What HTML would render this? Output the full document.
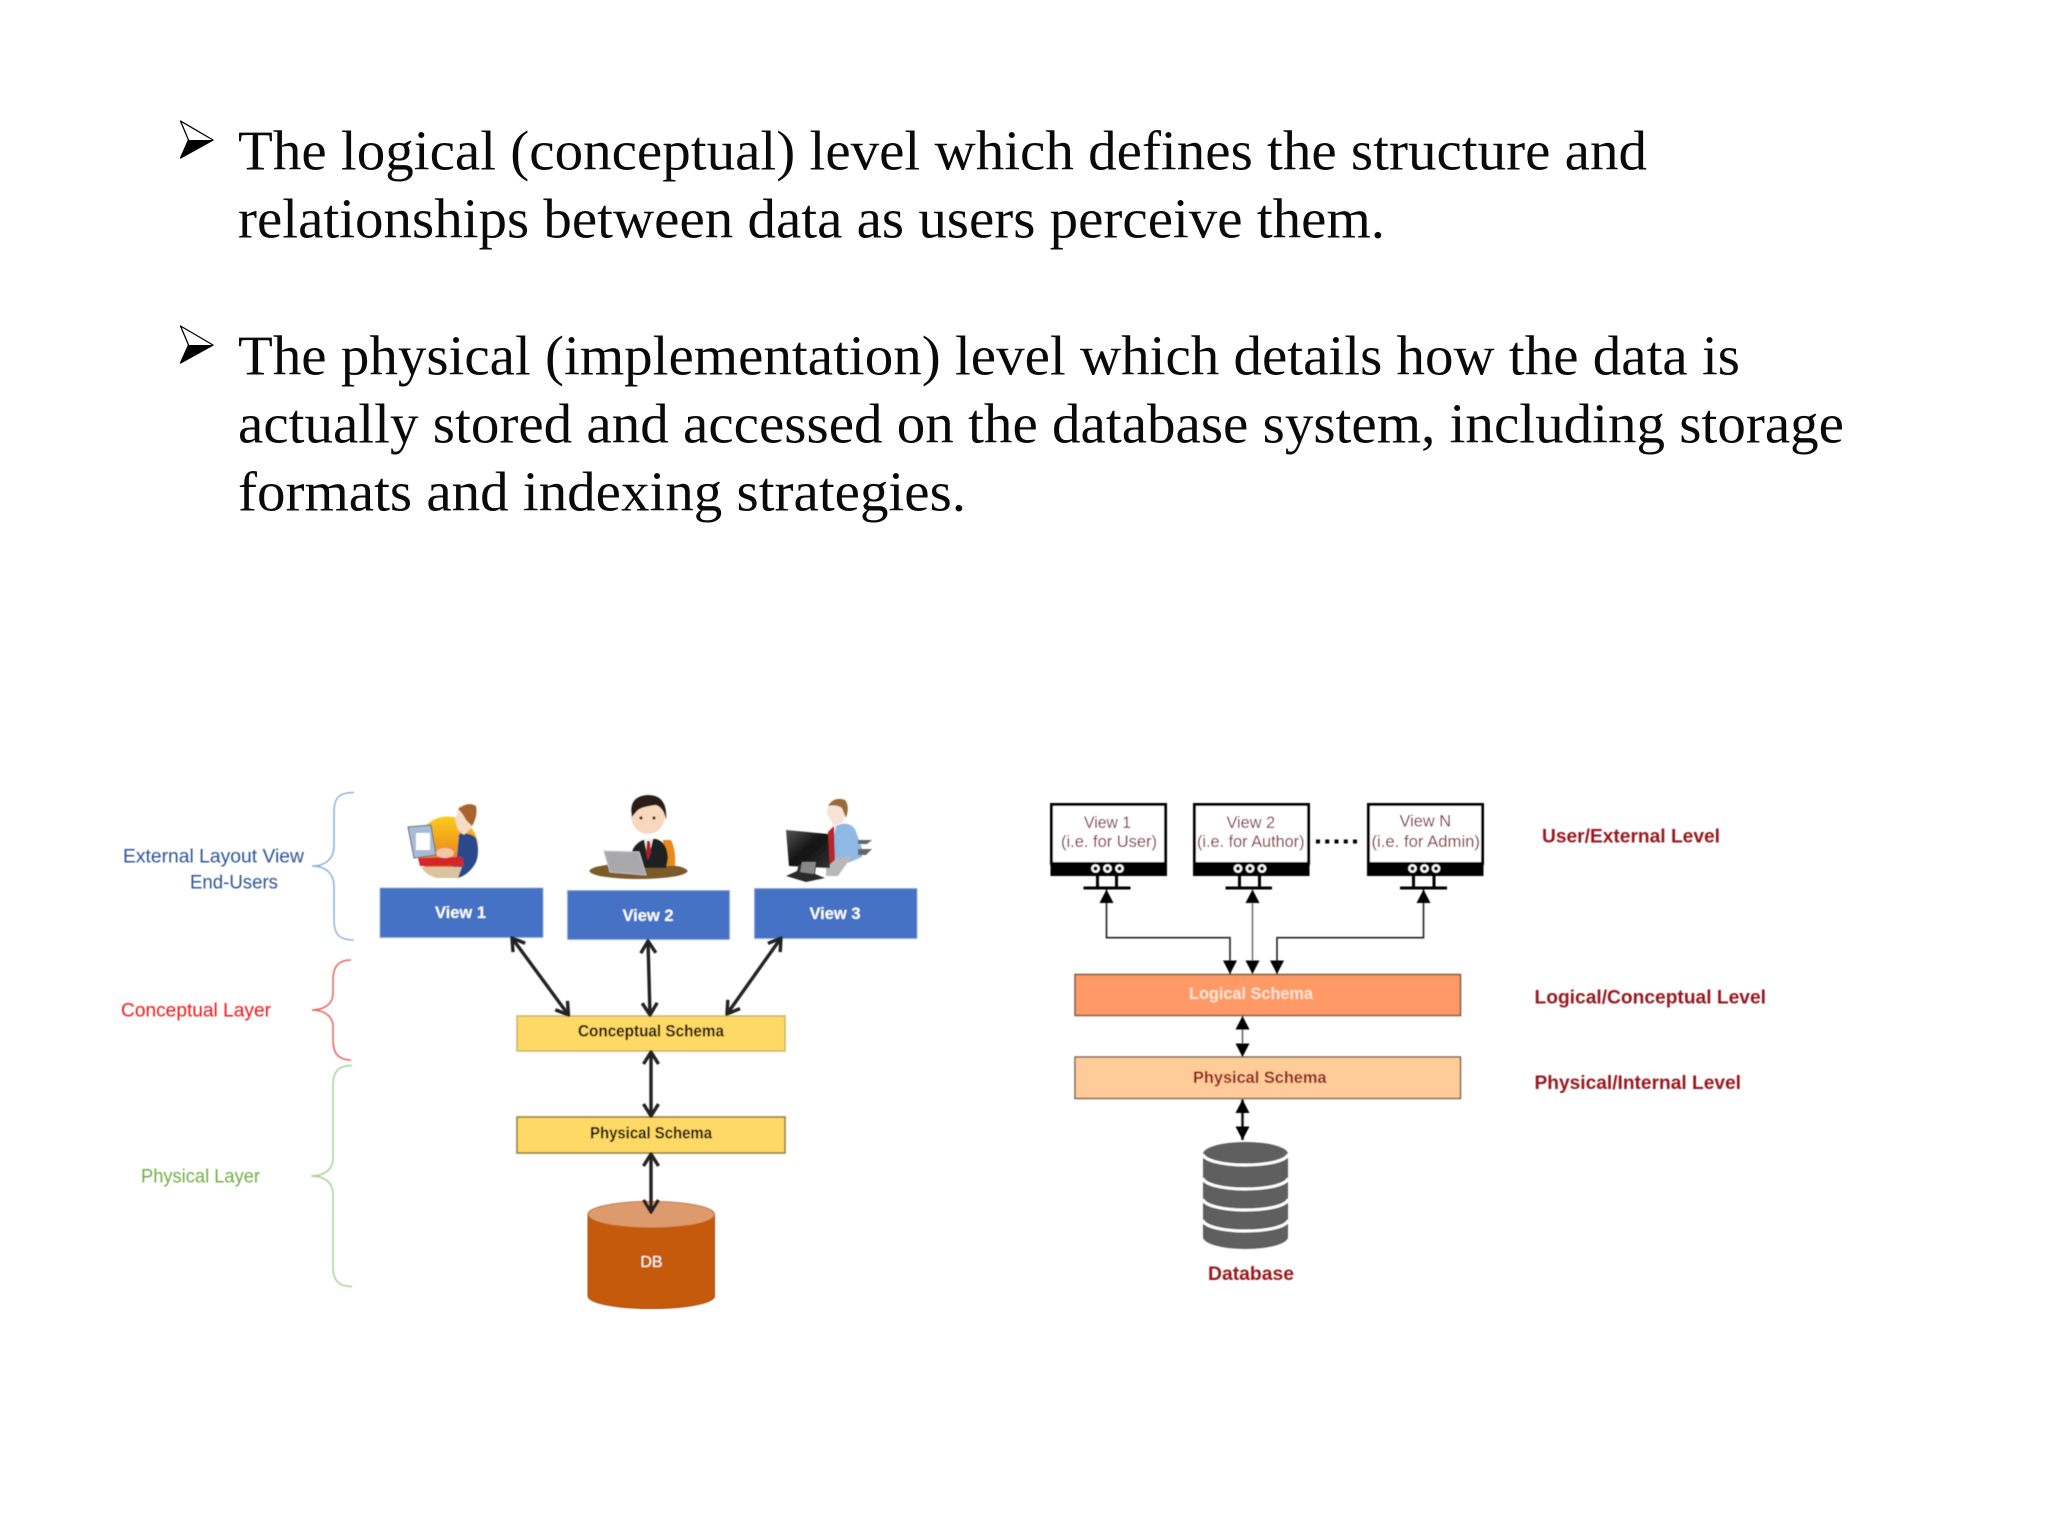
<!DOCTYPE html>
<html><head><meta charset="utf-8"><title>Logical and physical levels</title>
<style>
html,body{margin:0;padding:0;background:#fff;width:2048px;height:1536px;overflow:hidden}
svg{display:block}
.t{font-family:"Liberation Serif",serif;font-size:56.5px;fill:#0a0a0a}
.s{font-family:"Liberation Sans",sans-serif;dominant-baseline:central}
.c{font-family:"Liberation Sans",sans-serif;font-size:19px;dominant-baseline:central}
.b{font-weight:bold}
.lv{font-size:19.5px;font-weight:bold;fill:#97191f}
.v{font-size:16.5px;fill:#7d2a38}
</style></head><body>
<svg width="2048" height="1536" viewBox="0 0 2048 1536" xmlns="http://www.w3.org/2000/svg">
<defs>
<marker id="o" viewBox="-15 -10 17 20" refX="0" refY="0" markerWidth="17" markerHeight="20" markerUnits="userSpaceOnUse" orient="auto-start-reverse"><path d="M-12,-7.5 L0,0 L-12,7.5" fill="none" stroke="#222" stroke-width="3.4"/></marker>
<marker id="f" viewBox="-14 -8 15 16" refX="0" refY="0" markerWidth="15" markerHeight="16" markerUnits="userSpaceOnUse" orient="auto-start-reverse"><path d="M-13.5,-7 L0,0 L-13.5,7Z" fill="#000"/></marker>
<linearGradient id="sun" x1="0" y1="0" x2="0" y2="1"><stop offset="0" stop-color="#f9cc1e"/><stop offset=".55" stop-color="#f0921e"/><stop offset="1" stop-color="#d9622a"/></linearGradient>
<linearGradient id="scr" x1="0" y1="0" x2="1" y2="1"><stop offset="0" stop-color="#555"/><stop offset=".5" stop-color="#111"/><stop offset="1" stop-color="#333"/></linearGradient>
<filter id="bl" x="-2%" y="-2%" width="104%" height="104%"><feGaussianBlur stdDeviation=".5"/></filter>
</defs>

<!-- bullets -->
<g stroke-linejoin="round">
<path d="M180.5,121 L213,140 L180.5,158 L188.5,140Z" fill="#fff" stroke="#000" stroke-width="1.3"/>
<path d="M213,140 L180.5,158 L188.5,140Z" fill="#000"/>
<path d="M180.5,326 L213,345 L180.5,363 L188.5,345Z" fill="#fff" stroke="#000" stroke-width="1.3"/>
<path d="M213,345 L180.5,363 L188.5,345Z" fill="#000"/>
</g>
<text class="t" x="238" y="169.5" textLength="1409" lengthAdjust="spacingAndGlyphs">The logical (conceptual) level which defines the structure and</text>
<text class="t" x="238" y="237.5" textLength="1147" lengthAdjust="spacingAndGlyphs">relationships between data as users perceive them.</text>
<text class="t" x="238" y="374.5" textLength="1502" lengthAdjust="spacingAndGlyphs">The physical (implementation) level which details how the data is</text>
<text class="t" x="238" y="442.5" textLength="1606" lengthAdjust="spacingAndGlyphs">actually stored and accessed on the database system, including storage</text>
<text class="t" x="238" y="510.5" textLength="728" lengthAdjust="spacingAndGlyphs">formats and indexing strategies.</text>

<g filter="url(#bl)">
<!-- LEFT DIAGRAM -->
<!-- braces -->
<path d="M354,792.5 C340,792.5 334,797 334,812 L334,846 C334,858 326,866 312,866 C326,866 334,874 334,886 L334,920 C334,935 340,940 354,940" fill="none" stroke="#8fb0d8" stroke-width="1.5"/>
<path d="M351,960 C339,960 333,966 333,980 L333,994 C333,1003 325,1010 312,1010 C325,1010 333,1017 333,1026 L333,1040 C333,1054 339,1060 351,1060" fill="none" stroke="#e8625a" stroke-width="1.5"/>
<path d="M352,1065.5 C339,1065.5 333,1071 333,1085 L333,1158 C333,1169 325,1176 311,1176 C325,1176 333,1183 333,1194 L333,1267 C333,1281 339,1286.5 352,1286.5" fill="none" stroke="#a9cf98" stroke-width="1.5"/>
<text class="c" x="123" y="857" fill="#2f5597" textLength="181" lengthAdjust="spacingAndGlyphs">External Layout View</text>
<text class="c" x="190" y="883" fill="#2f5597" textLength="88" lengthAdjust="spacingAndGlyphs">End-Users</text>
<text class="c" x="121" y="1011" fill="#f01818" textLength="150" lengthAdjust="spacingAndGlyphs">Conceptual Layer</text>
<text class="c" x="141" y="1177" fill="#70ad47" textLength="119" lengthAdjust="spacingAndGlyphs">Physical Layer</text>

<!-- icon 1 -->
<circle cx="447.5" cy="847" r="30.5" fill="url(#sun)"/>
<path d="M459,834 Q470,832 476,838 Q480,852 476,862 Q470,874 458,878 L452,864 L457,856Z" fill="#2b4a8c"/>
<path d="M418,858 L462,857 L464,866 L420,866Z" fill="#d4252a"/>
<path d="M421,867 L462,867 L458,878 L436,878 Q426,875 421,867Z" fill="#dcc3a0"/>
<path d="M408,827 L431,825 L436,855 L414,858Z" fill="#a8bbd6" stroke="#5a6a80" stroke-width="1"/>
<rect x="416" y="833" width="14" height="17" fill="#fff"/>
<ellipse cx="445" cy="853" rx="9" ry="5" fill="#f2c7a8"/>
<path d="M455,820 L459,806 L474,808 L472,827 L464,835 L458,830Z" fill="#f6dcc6"/>
<path d="M458,809 Q468,801 476,806 Q478,816 472,826 L466,820 Q462,812 458,809Z" fill="#a8642f"/>

<!-- icon 2 -->
<ellipse cx="638.5" cy="871" rx="49" ry="8" fill="#7c5a2c"/>
<path d="M663,840 h8 q5,10 4,26 h-12Z" fill="#e88a1c"/>
<path d="M630,860 Q632,842 647,839 L656,839 Q667,842 668,858 L666,868 L632,868Z" fill="#1e2024"/>
<path d="M644,839 L653,839 L648,860Z" fill="#f1efe9"/>
<path d="M647,841 L650,841 L651,853 L648,860 L646,853Z" fill="#b01f2a"/>
<path d="M604,851 L639,852 L646,875 L610,872Z" fill="#a9a9ab" stroke="#c4c4c6" stroke-width="1"/>
<ellipse cx="648" cy="816" rx="17" ry="18" fill="#f8d8bd"/>
<path d="M632,817 Q628,796 648,795 Q668,795 666,820 Q664,808 656,805 Q640,807 637,811 Q635,813 632,817Z" fill="#2a1c14"/>
<circle cx="641" cy="818" r="1.6" fill="#3a2a20"/><circle cx="654" cy="818" r="1.6" fill="#3a2a20"/>

<!-- icon 3 -->
<path d="M830,856 L836,826 Q848,820 855,829 L862,848 L862,857 L850,862 L832,868Z" fill="#8fb9e4"/>
<path d="M858,840 h14 l-5,4 h-9Z M858,849 h14 l-6,6 h-8Z" fill="#666"/>
<path d="M826,860 L852,856 L838,876 L826,876Z" fill="#b8b8b8"/>
<path d="M827,814 Q827,801 838,800 Q848,801 847,808 L843,822 L834,826Z" fill="#f7e3d8"/>
<path d="M828,806 Q834,796 845,800 Q850,806 846,818 L842,808 Q836,804 828,806Z" fill="#9a6b3a"/>
<path d="M828,832 L834,826 L835,860 L828,866Z" fill="#b8272a"/>
<path d="M786,830 L828,834 L830,868 L789,866Z" fill="url(#scr)"/>
<path d="M799,864 L816,866 L815,874 L825,878 L806,882 L786,876 L797,871Z" fill="#2b2b2b"/>
<path d="M802,862 L816,862 L814,874 L800,872Z" fill="#888"/>

<!-- view boxes -->
<rect x="380" y="888" width="163" height="49.5" fill="#4472c4" stroke="#8aa8dc" stroke-width=".8"/>
<rect x="567.5" y="890.5" width="162" height="49" fill="#4472c4" stroke="#8aa8dc" stroke-width=".8"/>
<rect x="754.5" y="888.5" width="162.5" height="50" fill="#4472c4" stroke="#8aa8dc" stroke-width=".8"/>
<text class="s b" x="460.5" y="913" fill="#fff" font-size="16.5" text-anchor="middle">View 1</text>
<text class="s b" x="648" y="916" fill="#fff" font-size="16.5" text-anchor="middle">View 2</text>
<text class="s b" x="835" y="914" fill="#fff" font-size="16.5" text-anchor="middle">View 3</text>

<!-- schema boxes -->
<rect x="517" y="1016" width="268" height="35" fill="#ffd966" stroke="#c9b36a" stroke-width="1.5"/>
<rect x="517" y="1117" width="268" height="36" fill="#ffd966" stroke="#8a7a3c" stroke-width="1.5"/>
<text class="s b" x="578" y="1031.5" fill="#000" font-size="16.5" textLength="146" lengthAdjust="spacingAndGlyphs">Conceptual Schema</text>
<text class="s b" x="590" y="1133.5" fill="#000" font-size="16.5" textLength="122" lengthAdjust="spacingAndGlyphs">Physical Schema</text>

<!-- cylinder -->
<path d="M588,1214.5 A63,13 0 0 1 714.5,1214.5 L714.5,1296 A63,12.5 0 0 1 588,1296Z" fill="#c55a11" stroke="#a94d10" stroke-width="1"/>
<ellipse cx="651.3" cy="1214.5" rx="63" ry="13" fill="#dd9a6c"/>
<text class="s" x="651.5" y="1262.5" fill="#fff" font-size="16" text-anchor="middle">DB</text>

<!-- left arrows -->
<g stroke="#222" stroke-width="3.4" fill="none">
<line x1="512" y1="938" x2="568.5" y2="1015" marker-start="url(#o)" marker-end="url(#o)"/>
<line x1="648" y1="941" x2="650" y2="1015" marker-start="url(#o)" marker-end="url(#o)"/>
<line x1="781" y1="938" x2="727" y2="1014" marker-start="url(#o)" marker-end="url(#o)"/>
<line x1="651" y1="1052" x2="651" y2="1116" marker-start="url(#o)" marker-end="url(#o)"/>
<line x1="651" y1="1154" x2="651" y2="1212" marker-start="url(#o)" marker-end="url(#o)"/>
</g>

<!-- RIGHT DIAGRAM -->
<rect x="1051.5" y="804.5" width="114" height="59" fill="#fff" stroke="#000" stroke-width="3"/>
<rect x="1050.5" y="862" width="116.5" height="14" fill="#000"/>
<path d="M1097.5,876 V888 M1116.5,876 V888 M1083.5,888 H1130.5" stroke="#000" stroke-width="3" fill="none"/>
<rect x="1194.5" y="804.5" width="114" height="59" fill="#fff" stroke="#000" stroke-width="3"/>
<rect x="1193" y="862" width="116.5" height="14" fill="#000"/>
<path d="M1239.5,876 V888 M1259.5,876 V888 M1225.5,888 H1272" stroke="#000" stroke-width="3" fill="none"/>
<rect x="1368.5" y="804.5" width="114" height="59" fill="#fff" stroke="#000" stroke-width="3"/>
<rect x="1367" y="862" width="116.5" height="14" fill="#000"/>
<path d="M1413.5,876 V888 M1434,876 V888 M1400,888 H1447" stroke="#000" stroke-width="3" fill="none"/>
<g fill="#000" stroke="#fff" stroke-width="2.2">
<circle cx="1095.5" cy="868.5" r="3.2"/><circle cx="1107.5" cy="868.5" r="3.2"/><circle cx="1119.5" cy="868.5" r="3.2"/>
<circle cx="1238" cy="868.5" r="3.2"/><circle cx="1250" cy="868.5" r="3.2"/><circle cx="1262" cy="868.5" r="3.2"/>
<circle cx="1412.5" cy="868.5" r="3.2"/><circle cx="1424.5" cy="868.5" r="3.2"/><circle cx="1436" cy="868.5" r="3.2"/>
</g>
<text class="s v" x="1084" y="823" textLength="47" lengthAdjust="spacingAndGlyphs">View 1</text>
<text class="s v" x="1061" y="842" textLength="96" lengthAdjust="spacingAndGlyphs">(i.e. for User)</text>
<text class="s v" x="1226.5" y="823" textLength="48.5" lengthAdjust="spacingAndGlyphs">View 2</text>
<text class="s v" x="1197" y="842" textLength="107.5" lengthAdjust="spacingAndGlyphs">(i.e. for Author)</text>
<text class="s v" x="1399.5" y="821.5" textLength="51.5" lengthAdjust="spacingAndGlyphs">View N</text>
<text class="s v" x="1371.5" y="842" textLength="108.5" lengthAdjust="spacingAndGlyphs">(i.e. for Admin)</text>
<path d="M1316,841.5 H1357" stroke="#000" stroke-width="4" stroke-dasharray="4 5.25" fill="none"/>

<!-- schema -->
<rect x="1075" y="974.5" width="385.5" height="41" fill="#ff9966" stroke="#7d5a48" stroke-width="1.5"/>
<rect x="1075" y="1057" width="385.5" height="41.5" fill="#ffcc99" stroke="#7d6a58" stroke-width="1.5"/>
<text class="s b" x="1189" y="994" fill="#ffe6d6" font-size="16.5" textLength="124" lengthAdjust="spacingAndGlyphs">Logical Schema</text>
<text class="s b" x="1193" y="1078" fill="#8f1f1c" font-size="16.5" textLength="133.5" lengthAdjust="spacingAndGlyphs">Physical Schema</text>

<!-- right arrows -->
<g stroke="#222" stroke-width="1.6" fill="none">
<path d="M1106.5,889.5 V937.7 H1230 V974" marker-start="url(#f)" marker-end="url(#f)"/>
<path d="M1252.5,889.5 V974" stroke="#777" marker-start="url(#f)" marker-end="url(#f)"/>
<path d="M1423.5,889.5 V937.7 H1277 V974" marker-start="url(#f)" marker-end="url(#f)"/>
<path d="M1242.5,1016 V1057" stroke="#666" marker-start="url(#f)" marker-end="url(#f)"/>
<path d="M1242.5,1099.5 V1140" stroke="#111" stroke-width="2.5" marker-start="url(#f)" marker-end="url(#f)"/>
</g>

<!-- database -->
<path d="M1203,1154 A42.5,12 0 0 1 1288,1154 V1237 A42.5,12 0 0 1 1203,1237Z" fill="#5f5f5f"/>
<g fill="none" stroke="#fff" stroke-width="3">
<path d="M1203,1154 A42.5,11 0 0 0 1288,1154"/>
<path d="M1203,1178 A42.5,11 0 0 0 1288,1178"/>
<path d="M1203,1199 A42.5,11 0 0 0 1288,1199"/>
<path d="M1203,1220 A42.5,11 0 0 0 1288,1220"/>
</g>

<text class="s lv" x="1208" y="1274" textLength="86" lengthAdjust="spacingAndGlyphs">Database</text>
<text class="s lv" x="1542" y="836.5" textLength="178" lengthAdjust="spacingAndGlyphs">User/External Level</text>
<text class="s lv" x="1534.5" y="997.5" textLength="231.5" lengthAdjust="spacingAndGlyphs">Logical/Conceptual Level</text>
<text class="s lv" x="1534.5" y="1083" textLength="206.5" lengthAdjust="spacingAndGlyphs">Physical/Internal Level</text>
</g>
</svg>
</body></html>
